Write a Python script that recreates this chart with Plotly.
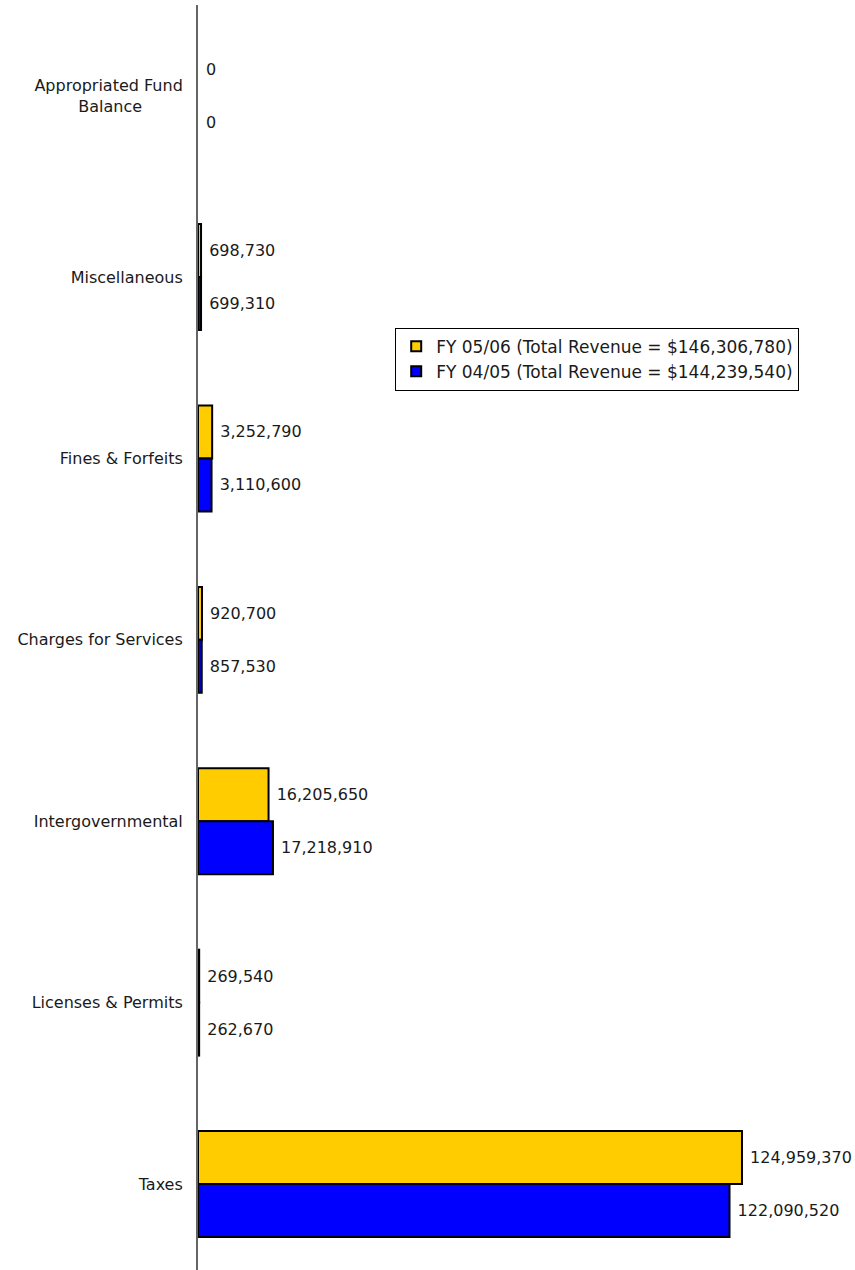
import plotly.graph_objects as go

categories = ["Appropriated Fund<br>Balance" + "\u00a0" * 8, "Miscellaneous", "Fines & Forfeits",
              "Charges for Services", "Intergovernmental", "Licenses & Permits", "Taxes"]
fy0506 = [0, 698730, 3252790, 920700, 16205650, 269540, 124959370]
fy0405 = [0, 699310, 3110600, 857530, 17218910, 262670, 122090520]
series_names = ["FY 05/06 (Total Revenue = $146,306,780)",
                "FY 04/05 (Total Revenue = $144,239,540)"]
colors = ["#FFCC00", "#0000FF"]

FONT = "DejaVu Sans"
fig = go.Figure()
for name, vals, col in zip(series_names, [fy0506, fy0405], colors):
    fig.add_trace(go.Bar(
        y=categories, x=vals, orientation="h", name=name, showlegend=False,
        marker=dict(color=col, line=dict(color="black",
                                         width=[0 if v == 0 else 2 for v in vals])),
        text=["\u00a0" + f"{v:,}" for v in vals], textposition="outside",
        textfont=dict(family=FONT, size=16, color="#1a1a1a"),
        cliponaxis=False,
    ))
# legend entries (square swatches with black border)
for name, col in zip(series_names, colors):
    fig.add_trace(go.Scatter(
        x=[None], y=[None], mode="markers", name=name, showlegend=True,
        marker=dict(symbol="square", size=10, color=col, line=dict(color="black", width=2)),
    ))

fig.update_layout(
    width=855, height=1270,
    margin=dict(l=198, r=4, t=5, b=0),
    paper_bgcolor="white", plot_bgcolor="white",
    barmode="group", bargap=0.416, bargroupgap=0,
    font=dict(family=FONT, size=16, color="#1a1a1a"),
    showlegend=True,
    legend=dict(x=0.302, y=0.745, xanchor="left", yanchor="top",
                bordercolor="black", borderwidth=1, bgcolor="white",
                font=dict(family=FONT, size=17, color="#1a1a1a"),
                tracegroupgap=0, itemwidth=30),
    xaxis=dict(range=[0, 150000000], visible=False, showgrid=False, zeroline=False),
    yaxis=dict(type="category", categoryorder="array", categoryarray=categories,
               range=[6.474, -0.5], showline=True, linecolor="#666", linewidth=2,
               showgrid=False, zeroline=False, ticks="", ticklabelstandoff=10,
               tickfont=dict(family=FONT, size=16, color="#1a1a1a")),
)
fig.write_html("out.html")
